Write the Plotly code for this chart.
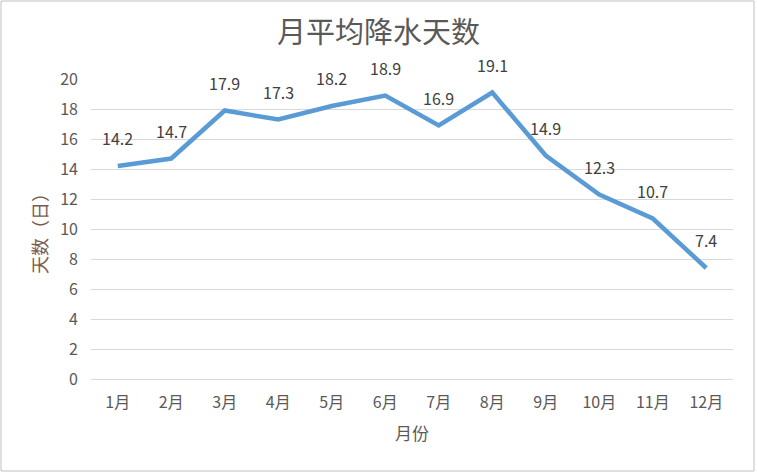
import plotly.graph_objects as go

months = ["1月", "2月", "3月", "4月", "5月", "6月", "7月", "8月", "9月", "10月", "11月", "12月"]
rain_days = [14.2, 14.7, 17.9, 17.3, 18.2, 18.9, 16.9, 19.1, 14.9, 12.3, 10.7, 7.4]
y_ticks = [0, 2, 4, 6, 8, 10, 12, 14, 16, 18, 20]

FONT = "Noto Sans CJK SC"
W, H = 757, 474
ML, MR, MT, MB = 91, 24, 79, 95
PW = W - ML - MR
PH = H - MT - MB

fig = go.Figure()
fig.add_trace(go.Scatter(
    x=months, y=rain_days, mode="lines",
    line=dict(color="#5B9BD5", width=4.5, shape="linear"),
    hoverinfo="x+y", showlegend=False,
))

annotations = []
for m, v in zip(months, rain_days):
    annotations.append(dict(
        x=m, y=v, xref="x", yref="y", text=f"{v:.1f}", showarrow=False,
        yshift=28, font=dict(family=FONT, size=16, color="#404040"),
    ))

fig.update_layout(
    width=W, height=H,
    margin=dict(l=ML, r=MR, t=MT, b=MB, pad=0),
    paper_bgcolor="white", plot_bgcolor="white",
    title=dict(text="月平均降水天数", x=0.5, xref="container", xanchor="center",
               y=1 - 33 / H, yanchor="middle",
               font=dict(family=FONT, size=29, color="#595959")),
    xaxis=dict(
        type="category", categoryorder="array", categoryarray=months,
        range=[-0.5, 11.5], showgrid=False, zeroline=False, showline=False,
        ticks="", tickfont=dict(family=FONT, size=16, color="#595959"),
        ticklabelstandoff=12,
        title=dict(text="月份", font=dict(family=FONT, size=17, color="#595959"), standoff=16),
    ),
    yaxis=dict(
        range=[0, 20], tickvals=y_ticks, ticktext=[str(t) for t in y_ticks],
        showgrid=True, gridcolor="#D9D9D9", gridwidth=1,
        zeroline=True, zerolinecolor="#D9D9D9", zerolinewidth=1,
        showline=False, ticks="",
        tickfont=dict(family=FONT, size=16, color="#595959"),
        ticklabelstandoff=12,
        title=dict(text="天数（日）", font=dict(family=FONT, size=18, color="#7A5C4E"), standoff=7),
    ),
    annotations=annotations,
    shapes=[dict(
        type="rect", xref="paper", yref="paper",
        x0=-(ML - 1) / PW, x1=1 + (MR - 3) / PW,
        y0=-(MB - 3) / PH, y1=1 + (MT - 1) / PH,
        line=dict(color="#BFBFBF", width=1), fillcolor="rgba(0,0,0,0)", layer="below",
    )],
)

fig.write_html("out.html", config={"displayModeBar": False},
               post_script="document.body.style.margin='0';")
